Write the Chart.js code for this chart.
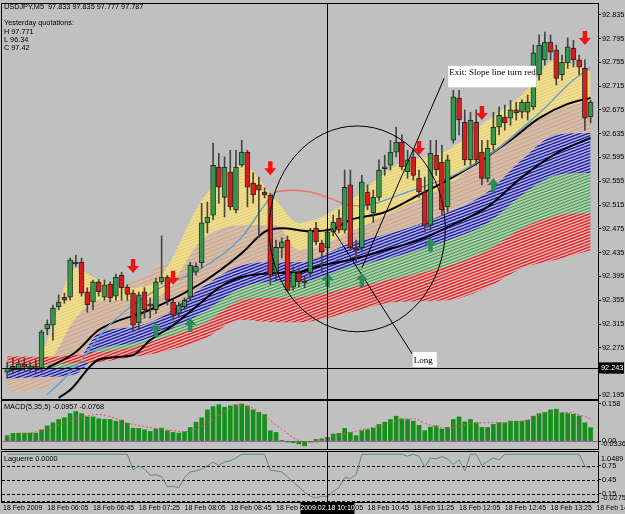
<!DOCTYPE html>
<html>
<head>
<meta charset="utf-8">
<script src="https://cdn.jsdelivr.net/npm/chart.js@4.4.1/dist/chart.umd.min.js"></script>
<style>
  html, body { margin: 0; padding: 0; background: #c0c0c0; }
  body { width: 625px; height: 514px; position: relative; overflow: hidden; }
  canvas { position: absolute; left: 0; }
  #price { top: 0; }
  #macd { top: 400px; }
  #lag { top: 450px; }
</style>
</head>
<body>
<canvas id="price" width="625" height="400"></canvas>
<canvas id="macd" width="625" height="52"></canvas>
<canvas id="lag" width="625" height="64"></canvas>
<script>
// ---------- candles (M5 bars, index 0 = 05:30) ----------
const opens = [92.234, 92.244, 92.238, 92.248, 92.241, 92.244, 92.241, 92.307, 92.313, 92.344,
  92.360, 92.360, 92.419, 92.419, 92.369, 92.352, 92.386, 92.360, 92.382, 92.362,
  92.397, 92.377, 92.367, 92.317, 92.369, 92.348, 92.339, 92.386, 92.394, 92.352,
  92.333, 92.344, 92.360, 92.402, 92.418, 92.485, 92.498, 92.579, 92.528, 92.571,
  92.507, 92.582, 92.604, 92.552, 92.549, 92.537, 92.532, 92.401, 92.443, 92.456,
  92.377, 92.401, 92.386, 92.401, 92.476, 92.451, 92.443, 92.470, 92.493, 92.473,
  92.549, 92.443, 92.443, 92.537, 92.502, 92.528, 92.576, 92.582, 92.604, 92.621,
  92.571, 92.596, 92.560, 92.537, 92.481, 92.599, 92.587, 92.512, 92.624, 92.695,
  92.654, 92.591, 92.654, 92.604, 92.560, 92.616, 92.646, 92.663, 92.661, 92.675,
  92.671, 92.671, 92.680, 92.734, 92.759, 92.789, 92.776, 92.734, 92.754, 92.779,
  92.759, 92.745, 92.663];
const highs = [92.251, 92.258, 92.255, 92.258, 92.251, 92.255, 92.305, 92.322, 92.347, 92.364,
  92.367, 92.426, 92.431, 92.426, 92.376, 92.389, 92.390, 92.389, 92.386, 92.399,
  92.402, 92.381, 92.372, 92.369, 92.376, 92.359, 92.392, 92.463, 92.397, 92.355,
  92.352, 92.359, 92.419, 92.418, 92.518, 92.520, 92.619, 92.602, 92.596, 92.607,
  92.607, 92.624, 92.607, 92.569, 92.562, 92.544, 92.535, 92.456, 92.460, 92.463,
  92.411, 92.409, 92.396, 92.476, 92.486, 92.456, 92.476, 92.498, 92.507, 92.574,
  92.574, 92.456, 92.565, 92.549, 92.540, 92.591, 92.599, 92.624, 92.646, 92.633,
  92.607, 92.607, 92.574, 92.562, 92.624, 92.624, 92.616, 92.599, 92.708, 92.708,
  92.675, 92.671, 92.675, 92.624, 92.624, 92.671, 92.680, 92.683, 92.691, 92.688,
  92.692, 92.700, 92.784, 92.801, 92.806, 92.801, 92.784, 92.767, 92.796, 92.792,
  92.767, 92.759, 92.691];
const lows = [92.224, 92.231, 92.234, 92.236, 92.234, 92.233, 92.234, 92.297, 92.288, 92.339,
  92.350, 92.355, 92.412, 92.362, 92.335, 92.339, 92.362, 92.355, 92.352, 92.355,
  92.355, 92.355, 92.302, 92.305, 92.325, 92.325, 92.333, 92.382, 92.347, 92.322,
  92.327, 92.339, 92.355, 92.397, 92.409, 92.468, 92.490, 92.518, 92.495, 92.507,
  92.502, 92.579, 92.512, 92.518, 92.460, 92.527, 92.381, 92.389, 92.426, 92.369,
  92.372, 92.377, 92.376, 92.394, 92.448, 92.401, 92.426, 92.463, 92.468, 92.468,
  92.439, 92.419, 92.436, 92.507, 92.486, 92.523, 92.565, 92.574, 92.596, 92.574,
  92.560, 92.557, 92.528, 92.470, 92.473, 92.565, 92.498, 92.503, 92.619, 92.633,
  92.582, 92.582, 92.582, 92.549, 92.554, 92.607, 92.633, 92.641, 92.649, 92.658,
  92.661, 92.658, 92.675, 92.725, 92.750, 92.759, 92.717, 92.725, 92.745, 92.747,
  92.734, 92.641, 92.653];
const closes = [92.241, 92.238, 92.248, 92.243, 92.244, 92.239, 92.302, 92.315, 92.342, 92.352,
  92.355, 92.423, 92.416, 92.367, 92.347, 92.386, 92.369, 92.381, 92.359, 92.394,
  92.376, 92.365, 92.313, 92.364, 92.339, 92.345, 92.386, 92.394, 92.355, 92.330,
  92.347, 92.355, 92.414, 92.412, 92.485, 92.495, 92.582, 92.545, 92.579, 92.512,
  92.579, 92.604, 92.545, 92.532, 92.540, 92.532, 92.397, 92.444, 92.453, 92.372,
  92.402, 92.386, 92.384, 92.473, 92.453, 92.436, 92.470, 92.486, 92.473, 92.545,
  92.443, 92.439, 92.554, 92.515, 92.528, 92.574, 92.579, 92.604, 92.621, 92.579,
  92.591, 92.565, 92.537, 92.481, 92.602, 92.574, 92.507, 92.591, 92.697, 92.658,
  92.591, 92.658, 92.591, 92.560, 92.611, 92.646, 92.666, 92.653, 92.675, 92.670,
  92.688, 92.688, 92.771, 92.784, 92.789, 92.772, 92.728, 92.755, 92.781, 92.759,
  92.747, 92.661, 92.688];

// ---------- axes text ----------
const priceTicks = [92.835, 92.795, 92.755, 92.715, 92.675, 92.635, 92.595, 92.555, 92.515,
  92.475, 92.435, 92.395, 92.355, 92.315, 92.275, 92.235, 92.195];
const firstLabel = '18 Feb 2009';
const timeBars = [7, 15, 23, 31, 39, 47, 55, 63, 71, 79, 87, 95, 103];
const timeLabels = ['18 Feb 06:05', '18 Feb 06:45', '18 Feb 07:25', '18 Feb 08:05', '18 Feb 08:45',
  '18 Feb 09:25', '18 Feb 10:05', '18 Feb 10:45', '18 Feb 11:25', '18 Feb 12:05', '18 Feb 12:45',
  '18 Feb 13:25', '18 Feb 14:05'];
const crossBar = 56;
const crossPrice = 92.243;
const crossTime = '2009.02.18 10:10';
const headerLines = ['USDJPY,M5  97.833 97.835 97.777 97.787', 'Yesterday quotations:', 'H 97.771', 'L 96.34', 'C 97.42'];

// ---------- moving average ribbons (edges) ----------
const ribbonBars = [0, 6, 12, 16, 22, 27, 34, 41, 47, 51, 60, 68, 77, 84, 90, 96, 102];
const yellowTop = [92.241, 92.268, 92.409, 92.389, 92.376, 92.397, 92.523, 92.582, 92.523, 92.485, 92.523, 92.582, 92.607, 92.658, 92.700, 92.759, 92.739];
const yellowBot = [92.241, 92.241, 92.325, 92.355, 92.355, 92.364, 92.456, 92.481, 92.481, 92.439, 92.470, 92.507, 92.549, 92.599, 92.644, 92.675, 92.691];
const tanTop = [92.223, 92.228, 92.347, 92.369, 92.386, 92.414, 92.456, 92.486, 92.486, 92.476, 92.495, 92.515, 92.557, 92.607, 92.649, 92.683, 92.705];
const tanBot = [92.201, 92.207, 92.251, 92.297, 92.308, 92.325, 92.372, 92.409, 92.419, 92.419, 92.448, 92.465, 92.498, 92.532, 92.587, 92.633, 92.636];
const blueTop = [92.244, 92.243, 92.251, 92.300, 92.310, 92.327, 92.376, 92.414, 92.419, 92.419, 92.451, 92.470, 92.502, 92.537, 92.591, 92.633, 92.636];
const blueBot = [92.223, 92.226, 92.231, 92.266, 92.276, 92.288, 92.330, 92.372, 92.384, 92.384, 92.409, 92.426, 92.453, 92.481, 92.528, 92.565, 92.569];
const greenTop = [92.248, 92.246, 92.251, 92.273, 92.283, 92.300, 92.333, 92.376, 92.386, 92.386, 92.411, 92.429, 92.456, 92.485, 92.532, 92.565, 92.569];
const greenBot = [92.243, 92.241, 92.244, 92.261, 92.271, 92.276, 92.310, 92.350, 92.355, 92.359, 92.372, 92.389, 92.409, 92.436, 92.473, 92.493, 92.502];
const redTop = [92.261, 92.260, 92.263, 92.268, 92.276, 92.291, 92.313, 92.355, 92.359, 92.360, 92.376, 92.392, 92.412, 92.439, 92.476, 92.497, 92.502];
const redBot = [92.248, 92.246, 92.249, 92.251, 92.260, 92.268, 92.288, 92.322, 92.318, 92.318, 92.335, 92.352, 92.355, 92.377, 92.409, 92.423, 92.439];

// black averages and the slope line
const black1Bars = [7, 12, 16, 25, 34, 41, 45, 48, 53, 57, 60, 66, 72, 77, 83, 88, 93, 98, 102];
const black1Vals = [92.241, 92.268, 92.305, 92.339, 92.384, 92.434, 92.470, 92.476, 92.471, 92.475, 92.490, 92.503, 92.532, 92.557, 92.591, 92.624, 92.661, 92.685, 92.695];
const black2Bars = [9, 11, 16, 22, 25, 29, 34, 37, 41, 47, 51, 54, 60, 66, 72, 77, 84, 90, 96, 102];
const black2Vals = [92.191, 92.204, 92.255, 92.263, 92.288, 92.313, 92.352, 92.376, 92.394, 92.401, 92.402, 92.411, 92.423, 92.439, 92.456, 92.478, 92.512, 92.562, 92.602, 92.628];
const slopeBars = [7, 10, 13, 17, 22, 27, 34, 41, 45, 47, 50, 53, 56, 59, 62, 66, 70, 74, 78, 82, 86, 90, 94, 98, 102];
const slopeVals = [92.196, 92.224, 92.255, 92.305, 92.347, 92.377, 92.409, 92.461, 92.515, 92.537, 92.540, 92.537, 92.528, 92.517, 92.513, 92.523, 92.537, 92.550, 92.565, 92.586, 92.611, 92.644, 92.678, 92.717, 92.747];
const slopeRedFrom = 47, slopeRedTo = 62;

// signal arrows (bar, tip price)
const sellBars = [22, 29, 46, 72, 83, 101];
const sellPrices = [92.401, 92.381, 92.565, 92.599, 92.658, 92.784];
const buyBars = [26, 32, 56, 62, 74, 85];
const buyPrices = [92.317, 92.325, 92.401, 92.401, 92.460, 92.560];

// drawn notes
const ellipse = { bar: 61.2, price: 92.475, rBars: 15.4, rPrice: 0.173 };
const notes = [
  { text: 'Exit: Slope line turn red', box: [77.1, 92.749, 92.45, 92.713], dy: 2, from: [76.4, 92.728], to: [62.0, 92.409] },
  { text: 'Long', box: [70.9, 92.268, 75.1, 92.243], dy: 4, from: [70.8, 92.265], to: [56.8, 92.476] }
];

// ---------- MACD ----------
const macdTitle = 'MACD(5,35,5) -0.0957 -0.0768';
const macdHist = [0.023, 0.033, 0.034, 0.034, 0.034, 0.034, 0.048, 0.065, 0.078, 0.092,
  0.099, 0.117, 0.126, 0.117, 0.103, 0.103, 0.095, 0.092, 0.092, 0.085,
  0.089, 0.076, 0.055, 0.054, 0.048, 0.041, 0.051, 0.055, 0.044, 0.037,
  0.034, 0.040, 0.058, 0.081, 0.099, 0.133, 0.147, 0.155, 0.144, 0.150,
  0.154, 0.158, 0.150, 0.133, 0.122, 0.113, 0.044, 0.037, 0.003, -0.004,
  -0.007, -0.012, -0.020, -0.004, 0.007, 0.010, 0.016, 0.030, 0.033, 0.054,
  0.037, 0.023, 0.044, 0.048, 0.055, 0.071, 0.081, 0.092, 0.106, 0.095,
  0.092, 0.085, 0.067, 0.044, 0.060, 0.065, 0.051, 0.058, 0.092, 0.103,
  0.082, 0.092, 0.078, 0.058, 0.058, 0.071, 0.078, 0.078, 0.085, 0.085,
  0.085, 0.089, 0.106, 0.117, 0.122, 0.133, 0.136, 0.120, 0.117, 0.114,
  0.107, 0.078, 0.057];
const macdSigBars = [0, 7, 13, 16, 22, 28, 31, 35, 39, 41, 43, 45, 48, 51, 54, 57, 60, 66, 69, 71, 74, 77, 80, 84, 87, 91, 93, 95, 98, 100, 102];
const macdSigVals = [0.016, 0.051, 0.103, 0.113, 0.071, 0.048, 0.040, 0.078, 0.140, 0.150, 0.140, 0.106, 0.051, 0.003, -0.004, 0.021, 0.037, 0.071, 0.092, 0.095, 0.067, 0.054, 0.071, 0.078, 0.078, 0.089, 0.113, 0.122, 0.122, 0.113, 0.095];
const macdTicks = [0.158, 0];
const macdTickText = ['0.158', '0.00'];
const macdMinText = '-0.0336';

// ---------- Laguerre ----------
const lagTitle = 'Laguerre 0.0000';
const lagBars = [0, 21, 22, 23, 24, 25, 26, 27, 28, 29, 30, 31, 32, 33, 34, 35, 36, 37, 38, 39, 40, 41,
  45, 46, 47, 48, 49, 50, 51, 52, 53, 54, 55, 56, 57, 58, 59, 60, 61, 62,
  69, 70, 71, 72, 73, 74, 75, 76, 77, 78, 79, 80, 81, 82, 83, 84, 85, 86, 87, 100, 101, 102];
const lagVals = [1, 1, 0.66, 0.75, 0.68, 0.55, 0.56, 0.52, 0.30, 0.31, 0.28, 0.50, 0.62, 0.64, 0.68, 0.75, 0.83, 0.76, 0.83, 0.86, 0.92, 1,
  1, 0.66, 0.64, 0.62, 0.51, 0.40, 0.30, 0.18, 0.10, 0.06, 0.10, 0.08, 0.20, 0.28, 0.50, 0.48, 0.56, 1,
  1, 0.96, 1, 0.96, 0.72, 0.92, 0.90, 0.95, 0.90, 0.78, 0.88, 0.64, 1, 1, 0.76, 0.85, 0.92, 0.88, 1, 1, 0.74, 0.71];
const lagTicks = [0.75, 0.45, 0.15];
const lagLevels = [0.75, 0.45, 0.15, 0];
const lagMaxText = '1.0489', lagMinText = '-0.0275';

// ---------- helpers ----------
const X_MIN = -0.909, X_MAX = 103.294;
const FONT = '"Liberation Sans", Arial, sans-serif';
const idx = opens.map((_, i) => i);
const pts = (bars, vals) => bars.map((b, i) => ({ x: b, y: vals[i] }));

function stripes(line, bg, step, width) {
  const w = Math.round(step * 2.6), h = step;
  const c = document.createElement('canvas');
  c.width = w; c.height = h;
  const g = c.getContext('2d');
  g.fillStyle = bg; g.fillRect(0, 0, w, h);
  g.strokeStyle = line; g.lineWidth = width;
  for (let k = -1; k <= 1; k++) {
    g.beginPath(); g.moveTo(0, (k + 1) * h); g.lineTo(w, k * h); g.stroke();
  }
  return g.createPattern(c, 'repeat');
}

function band(top, bot, fillStyle, order) {
  return [
    { type: 'line', data: pts(ribbonBars, top), borderWidth: 0, pointRadius: 0, fill: '+1',
      backgroundColor: fillStyle, cubicInterpolationMode: 'monotone', order },
    { type: 'line', data: pts(ribbonBars, bot), borderWidth: 0, pointRadius: 0, fill: false,
      cubicInterpolationMode: 'monotone', order }
  ];
}

function xAxis() {
  return { type: 'linear', min: X_MIN, max: X_MAX, display: false, offset: false };
}

function rightAxis(min, max, ticks, fmt) {
  return {
    type: 'linear', position: 'right', min, max, beginAtZero: false,
    afterBuildTicks: s => { s.ticks = ticks.map(v => ({ value: v })); },
    afterFit: s => { s.width = 27; s.paddingTop = 0; s.paddingBottom = 0; },
    grid: { drawOnChartArea: false, drawTicks: true, tickLength: 3, color: '#000' },
    border: { display: true, color: '#000' },
    ticks: { autoSkip: false, padding: 1, color: '#000', font: { family: FONT, size: 7.3 }, callback: fmt }
  };
}

function arrow(ctx, x, tip, dir, color) {
  // dir 1 = pointing down, -1 = pointing up
  const hw = 6, hh = 7, sw = 2.2, sl = 7;
  ctx.fillStyle = color;
  ctx.beginPath();
  ctx.moveTo(x, tip);
  ctx.lineTo(x - hw, tip - dir * hh);
  ctx.lineTo(x - sw, tip - dir * hh);
  ctx.lineTo(x - sw, tip - dir * (hh + sl));
  ctx.lineTo(x + sw, tip - dir * (hh + sl));
  ctx.lineTo(x + sw, tip - dir * hh);
  ctx.lineTo(x + hw, tip - dir * hh);
  ctx.closePath();
  ctx.fill();
}

function frame(ctx, a) {
  ctx.save();
  ctx.strokeStyle = '#000'; ctx.lineWidth = 1;
  ctx.strokeRect(a.left - 0.5, a.top - 0.5, a.right - a.left + 1, a.bottom - a.top + 1);
  ctx.restore();
}

function vCross(ctx, a, x) {
  const px = Math.round(x.getPixelForValue(crossBar)) + 0.5;
  ctx.save();
  ctx.strokeStyle = '#000'; ctx.lineWidth = 1;
  ctx.beginPath(); ctx.moveTo(px, a.top); ctx.lineTo(px, a.bottom); ctx.stroke();
  ctx.restore();
}

const baseOptions = {
  responsive: false, animation: false, devicePixelRatio: 1, events: [],
  plugins: { legend: { display: false }, tooltip: { enabled: false } }
};

// ---------- price panel ----------
const mainOverlay = {
  id: 'mainOverlay',
  afterDatasetsDraw(chart) {
    const { ctx, chartArea: a, scales: { x, y } } = chart;
    ctx.save();
    ctx.beginPath(); ctx.rect(a.left, a.top, a.right - a.left, a.bottom - a.top); ctx.clip();

    ctx.strokeStyle = '#000'; ctx.lineWidth = 1;
    const cx = x.getPixelForValue(ellipse.bar), cy = y.getPixelForValue(ellipse.price);
    const rx = x.getPixelForValue(ellipse.bar + ellipse.rBars) - cx;
    const ry = y.getPixelForValue(ellipse.price - ellipse.rPrice) - cy;
    ctx.beginPath(); ctx.ellipse(cx, cy, rx, ry, 0, 0, Math.PI * 2); ctx.stroke();

    notes.forEach(n => {
      ctx.beginPath();
      ctx.moveTo(x.getPixelForValue(n.from[0]), y.getPixelForValue(n.from[1]));
      ctx.lineTo(x.getPixelForValue(n.to[0]), y.getPixelForValue(n.to[1]));
      ctx.stroke();
    });

    sellBars.forEach((b, i) => arrow(ctx, x.getPixelForValue(b), y.getPixelForValue(sellPrices[i]), 1, '#f21414'));
    buyBars.forEach((b, i) => arrow(ctx, x.getPixelForValue(b), y.getPixelForValue(buyPrices[i]), -1, '#2f8a5c'));

    const py = Math.round(y.getPixelForValue(crossPrice)) + 1.5;
    ctx.beginPath(); ctx.moveTo(a.left, py); ctx.lineTo(a.right, py); ctx.stroke();
    ctx.restore();
    vCross(ctx, a, x);

    ctx.save();
    notes.forEach(n => {
      const l = x.getPixelForValue(n.box[0]), t = y.getPixelForValue(n.box[1]);
      const r = x.getPixelForValue(n.box[2]), b = y.getPixelForValue(n.box[3]);
      ctx.fillStyle = '#fff'; ctx.fillRect(l, t, r - l, b - t);
      ctx.fillStyle = '#000'; ctx.font = '9px "Liberation Serif", "Times New Roman", serif';
      ctx.textBaseline = 'top'; ctx.textAlign = 'left';
      ctx.fillText(n.text, l + 1, t + n.dy);
    });
    ctx.restore();
  },
  afterDraw(chart) {
    const { ctx, chartArea: a, scales: { y } } = chart;
    ctx.save();
    ctx.font = '7.3px ' + FONT; ctx.fillStyle = '#000'; ctx.textBaseline = 'middle'; ctx.textAlign = 'left';
    const rows = [6.5, 22.5, 31.5, 39.5, 47.5];
    headerLines.forEach((t, i) => ctx.fillText(t, 4, rows[i]));
    const py = y.getPixelForValue(crossPrice) + 1;
    ctx.fillStyle = '#000'; ctx.fillRect(a.right + 1, py - 5.5, 25, 11);
    ctx.fillStyle = '#fff'; ctx.fillText(crossPrice.toFixed(3), a.right + 3, py);
    ctx.restore();
    frame(chart.ctx, a);
    ctx.save(); ctx.fillStyle = '#000'; ctx.fillRect(a.left - 1, a.bottom, a.right - a.left + 2, 1); ctx.restore();
  }
};

new Chart(document.getElementById('price'), {
  type: 'bar',
  data: {
    datasets: [
      { type: 'bar', data: idx.map(i => ({ x: i, y: [opens[i], closes[i]] })),
        backgroundColor: idx.map(i => closes[i] >= opens[i] ? '#33994d' : '#dc1c1c'),
        borderColor: 'rgba(0,0,0,0.75)', borderWidth: 1, borderSkipped: false,
        barThickness: 5, minBarLength: 2, grouped: false, order: 0 },
      { type: 'bar', data: idx.map(i => ({ x: i, y: [lows[i], highs[i]] })),
        backgroundColor: '#444', barThickness: 1, grouped: false, order: 1 },
      { type: 'line', data: pts(slopeBars, slopeVals), borderWidth: 1.4, pointRadius: 0,
        borderColor: '#6c9ec8', cubicInterpolationMode: 'monotone', order: 2,
        segment: { borderColor: c => (c.p0.parsed.x >= slopeRedFrom && c.p1.parsed.x <= slopeRedTo) ? '#ef7462' : '#6c9ec8' } },
      { type: 'line', data: pts(black1Bars, black1Vals), borderWidth: 2, pointRadius: 0,
        borderColor: '#000', cubicInterpolationMode: 'monotone', order: 3 },
      { type: 'line', data: pts(black2Bars, black2Vals), borderWidth: 2, pointRadius: 0,
        borderColor: '#000', cubicInterpolationMode: 'monotone', order: 3 },
      ...band(redTop, redBot, stripes('#ec1a1a', '#d8b4b4', 3, 1.2), 4),
      ...band(greenTop, greenBot, stripes('#2e9c3c', '#b6cab6', 3, 1.0), 5),
      ...band(blueTop, blueBot, stripes('#1818a4', '#aeaed8', 3, 1.2), 6),
      ...band(yellowTop, yellowBot, stripes('#f0cc5a', '#e9df9e', 3, 1.0), 7),
      ...band(tanTop, tanBot, stripes('#e69c66', '#ccc0b6', 4, 1.0), 8)
    ]
  },
  options: {
    ...baseOptions,
    layout: { padding: { left: 2, top: 4, right: 0, bottom: 1 } },
    scales: { x: xAxis(), y: rightAxis(92.189, 92.853, priceTicks, v => v.toFixed(3)) }
  },
  plugins: [mainOverlay]
});

// ---------- MACD panel ----------
const macdOverlay = {
  id: 'macdOverlay',
  beforeDatasetsDraw(chart) {
    const { ctx, chartArea: a, scales: { y } } = chart;
    const py = Math.round(y.getPixelForValue(0)) + 0.5;
    ctx.save(); ctx.strokeStyle = '#b64cc4'; ctx.lineWidth = 1;
    ctx.beginPath(); ctx.moveTo(a.left, py); ctx.lineTo(a.right, py); ctx.stroke();
    ctx.restore();
  },
  afterDraw(chart) {
    const { ctx, chartArea: a, scales: { x } } = chart;
    vCross(ctx, a, x);
    ctx.save();
    ctx.font = '7.3px ' + FONT; ctx.fillStyle = '#000'; ctx.textBaseline = 'middle'; ctx.textAlign = 'left';
    ctx.fillText(macdTitle, 4, a.top + 6);
    ctx.fillText(macdMinText, a.right + 3, a.bottom - 5);
    ctx.restore();
    frame(ctx, a);
  }
};

new Chart(document.getElementById('macd'), {
  type: 'bar',
  data: {
    datasets: [
      { type: 'line', data: pts(macdSigBars, macdSigVals), borderColor: '#e45252', borderWidth: 1,
        borderDash: [2, 2], pointRadius: 0, cubicInterpolationMode: 'monotone', order: 0 },
      { type: 'bar', data: idx.map(i => ({ x: i, y: macdHist[i] })), backgroundColor: '#15901a',
        barThickness: 4, grouped: false, order: 1 }
    ]
  },
  options: {
    ...baseOptions,
    layout: { padding: { left: 2, top: 1, right: 0, bottom: 3 } },
    scales: { x: xAxis(), y: rightAxis(-0.0336, 0.1707, macdTicks, (v, i) => macdTickText[i]) }
  },
  plugins: [macdOverlay]
});

// ---------- Laguerre panel ----------
const lagOverlay = {
  id: 'lagOverlay',
  beforeDatasetsDraw(chart) {
    const { ctx, chartArea: a, scales: { y } } = chart;
    ctx.save(); ctx.strokeStyle = '#000'; ctx.lineWidth = 1; ctx.setLineDash([3, 2]);
    lagLevels.forEach(v => {
      const py = Math.round(y.getPixelForValue(v)) + 0.5;
      ctx.beginPath(); ctx.moveTo(a.left, py); ctx.lineTo(a.right, py); ctx.stroke();
    });
    ctx.restore();
  },
  afterDraw(chart) {
    const { ctx, chartArea: a, scales: { x } } = chart;
    vCross(ctx, a, x);
    ctx.save();
    ctx.font = '7.3px ' + FONT; ctx.fillStyle = '#000'; ctx.textBaseline = 'middle'; ctx.textAlign = 'left';
    ctx.fillText(lagTitle, 4, a.top + 7);
    ctx.fillText(lagMaxText, a.right + 3, a.top + 7);
    ctx.fillText(lagMinText, a.right + 3, a.bottom - 4);

    ctx.font = '7px ' + FONT;
    const ty = a.bottom + 6.5;
    ctx.fillText(firstLabel, a.left + 1, ty);
    timeBars.forEach((b, i) => ctx.fillText(timeLabels[i], x.getPixelForValue(b), ty));
    const cx = x.getPixelForValue(crossBar);
    ctx.fillStyle = '#000'; ctx.fillRect(cx - 27, a.bottom + 1, 54, 11);
    ctx.fillStyle = '#fff'; ctx.textAlign = 'center'; ctx.fillText(crossTime, cx, ty);
    ctx.restore();
    frame(ctx, a);
  }
};

new Chart(document.getElementById('lag'), {
  type: 'line',
  data: {
    datasets: [
      { data: pts(lagBars, lagVals), borderColor: '#5a9070', borderWidth: 1, pointRadius: 0, tension: 0 }
    ]
  },
  options: {
    ...baseOptions,
    layout: { padding: { left: 2, top: 2, right: 0, bottom: 12 } },
    scales: { x: xAxis(), y: rightAxis(-0.0275, 1.0489, lagTicks, v => v.toFixed(2)) }
  },
  plugins: [lagOverlay]
});
</script>
</body>
</html>
